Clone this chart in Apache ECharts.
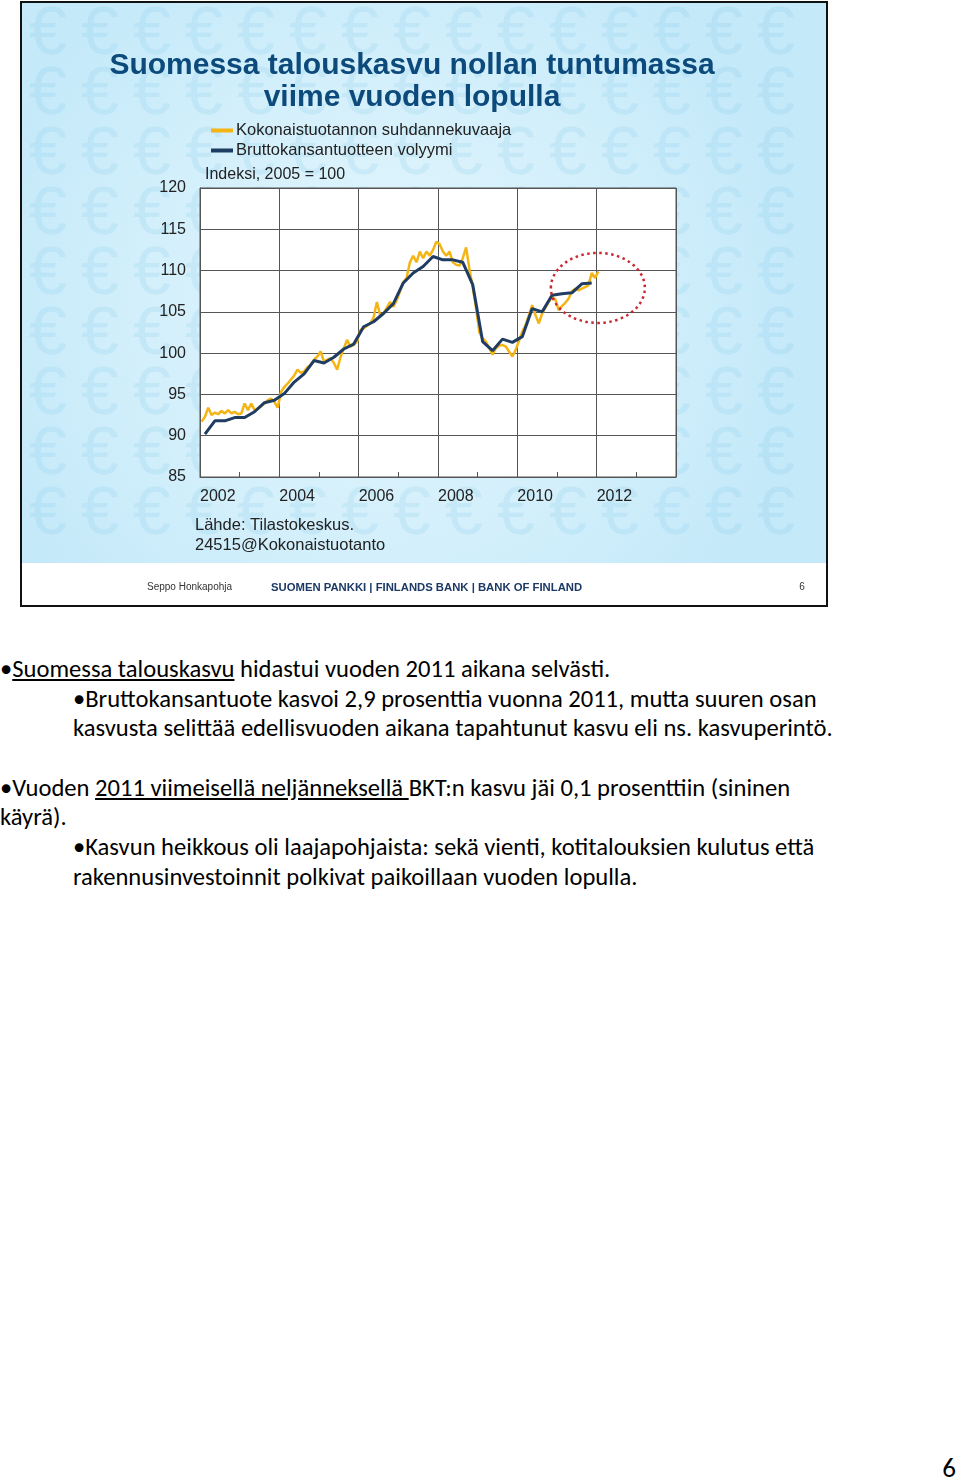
<!DOCTYPE html>
<html>
<head>
<meta charset="utf-8">
<script src="https://cdn.jsdelivr.net/npm/echarts@6/dist/echarts.min.js"></script>
<style>
  html, body { margin:0; padding:0; background:#fff; }
  body { width:960px; height:1478px; position:relative; overflow:hidden; }
  #chart { position:absolute; left:0; top:0; width:960px; height:620px; }
  .ln { position:absolute; white-space:nowrap; line-height:30px; height:30px; color:#000;
        font-family: Carlito, Lato, "Liberation Sans", sans-serif; font-size:20px; }
  .ln u { text-decoration: underline; text-underline-offset: 2px; }
  #pg { position:absolute; right:4px; top:1454px; font-family: Carlito, Lato, sans-serif; font-size:22px; line-height:28px; }
</style>
</head>
<body>
<div id="chart"></div>
<div class="ln" id="l1" style="left:0px; top:654px;">•<u>Suomessa talouskasvu</u> hidastui vuoden 2011 aikana selvästi.</div>
<div class="ln" id="l2" style="left:73px; top:684px;">•Bruttokansantuote kasvoi 2,9 prosenttia vuonna 2011, mutta suuren osan</div>
<div class="ln" id="l3" style="left:73px; top:713px;">kasvusta selittää edellisvuoden aikana tapahtunut kasvu eli ns. kasvuperintö.</div>
<div class="ln" id="l4" style="left:0px; top:773px;">•Vuoden <u>2011 viimeisellä neljänneksellä </u>BKT:n kasvu jäi 0,1 prosenttiin (sininen</div>
<div class="ln" id="l5" style="left:0px; top:802px;">käyrä).</div>
<div class="ln" id="l6" style="left:73px; top:832px;">•Kasvun heikkous oli laajapohjaista: sekä vienti, kotitalouksien kulutus että</div>
<div class="ln" id="l7" style="left:73px; top:862px;">rakennusinvestoinnit polkivat paikoillaan vuoden lopulla.</div>
<div id="pg">6</div>
<script>
// ---------------- DATA ----------------
const seriesNames = ['Kokonaistuotannon suhdannekuvaaja', 'Bruttokansantuotteen volyymi'];
const startYear = 2002;
// Bruttokansantuotteen volyymi, quarterly 2002Q1..2011Q4 (index 2005 = 100)
const gdpVolumeQuarterly = [
  90.2, 91.8, 91.8, 92.2,
  92.2, 92.9, 94.0, 94.3,
  95.1, 96.5, 97.5, 99.1,
  98.8, 99.5, 100.5, 101.1,
  103.2, 103.8, 104.8, 106.0,
  108.5, 109.7, 110.5, 111.7,
  111.3, 111.3, 111.0, 108.3,
  101.4, 100.3, 101.7, 101.3,
  102.0, 105.4, 105.0, 107.0,
  107.2, 107.3, 108.4, 108.5
];
// Kokonaistuotannon suhdannekuvaaja, monthly 2002-01..2012-01
const trendIndicatorMonthly = [
  91.7, 92.3, 93.4, 92.5, 92.8, 92.6, 93.0, 92.7, 93.1, 92.7, 92.9, 92.6,
  92.7, 93.9, 93.1, 93.9, 93.1, 93.3, 93.6, 93.9, 94.3, 94.5, 94.1, 93.4,
  95.3, 95.9, 96.3, 96.8, 97.3, 98.0, 97.6, 97.8, 98.3, 98.6, 99.2, 99.6,
  100.2, 99.0, 99.2, 99.4, 98.8, 98.0, 99.5, 100.6, 101.6, 100.8, 101.0, 101.4,
  102.8, 103.0, 103.3, 103.6, 104.3, 106.2, 104.6, 104.8, 105.5, 106.2, 105.6, 106.4,
  107.5, 108.6, 109.1, 111.0, 111.8, 111.0, 112.3, 111.5, 112.3, 111.8, 112.5, 113.5,
  113.2, 112.3, 111.8, 112.3, 111.0, 110.7, 110.6, 111.5, 112.8, 110.2, 108.0, 105.5,
  102.5, 101.8, 101.4, 100.6, 99.8, 100.6, 100.9, 101.0, 100.8, 100.2, 99.6, 100.4,
  101.5, 102.6, 103.4, 104.6, 105.8, 104.6, 103.6, 104.8, 105.5, 106.2, 106.8, 106.5,
  105.2, 105.7, 106.1, 106.6, 107.5, 107.8, 107.6, 107.8, 108.0, 108.2, 109.7, 109.1,
  109.9
];
const xTickYears = [2002, 2004, 2006, 2008, 2010, 2012];
const yTicks = [85, 90, 95, 100, 105, 110, 115, 120];
const highlightCenter = [2012.03, 107.9]; // dotted ellipse around latest data

// -------------- BUILD --------------
const gdpData = gdpVolumeQuarterly.map((v, i) => [startYear + i / 4 + 0.125, v]);
const trendData = trendIndicatorMonthly.map((v, i) => [startYear + i / 12 + 1 / 24, v]);

const FONT = '"Liberation Sans", Arial, sans-serif';
const YELLOW = '#f4b414';
const NAVY = '#1f3d63';

const bg = [];
// slide background
bg.push({ type:'rect', z:-20, shape:{ x:22, y:3, width:804, height:560 },
  style:{ fill: new echarts.graphic.RadialGradient(0.45, 0.55, 0.75, [
    { offset:0, color:'#e4f6fd' }, { offset:0.6, color:'#d2effb' }, { offset:1, color:'#c4e9f9' }]) } });
// euro pattern
for (let r = 0; r < 10; r++) {
  for (let c = 0; c < 16; c++) {
    const x = 48 + c * 52, y = 35 + r * 60;
    if (x > 815 || y > 560) continue;
    bg.push({ type:'text', z:-19, x: x, y: y, style:{ text:'€', fill:'rgba(120,195,232,0.17)',
      font:'68px "Liberation Sans", sans-serif', align:'center', verticalAlign:'middle' } });
  }
}
// footer strip
bg.push({ type:'rect', z:-18, shape:{ x:22, y:563, width:804, height:42 }, style:{ fill:'#ffffff' } });
// border
bg.push({ type:'rect', z:50, shape:{ x:21, y:2, width:806, height:604 }, style:{ fill:'none', stroke:'#111', lineWidth:2 } });

const texts = [
  { type:'text', z:10, x:412, y:66, style:{ text:'Suomessa talouskasvu nollan tuntumassa', fill:'#0d4a7c',
      font:'bold 30px ' + FONT, align:'center', verticalAlign:'middle' } },
  { type:'text', z:10, x:412, y:98, style:{ text:'viime vuoden lopulla', fill:'#0d4a7c',
      font:'bold 30px ' + FONT, align:'center', verticalAlign:'middle' } },
  { type:'text', z:10, x:205, y:175, style:{ text:'Indeksi, 2005 = 100', fill:'#222',
      font:'16px ' + FONT, align:'left', verticalAlign:'middle' } },
  { type:'text', z:10, x:195, y:525, style:{ text:'Lähde: Tilastokeskus.', fill:'#222',
      font:'16.5px ' + FONT, align:'left', verticalAlign:'middle' } },
  { type:'text', z:10, x:195, y:545, style:{ text:'24515@Kokonaistuotanto', fill:'#222',
      font:'16.5px ' + FONT, align:'left', verticalAlign:'middle' } },
  { type:'text', z:10, x:147, y:587, style:{ text:'Seppo Honkapohja', fill:'#333',
      font:'10px ' + FONT, align:'left', verticalAlign:'middle' } },
  { type:'text', z:10, x:271, y:588, style:{ text:'SUOMEN PANKKI | FINLANDS BANK | BANK OF FINLAND', fill:'#1c3a66',
      font:'bold 11.3px ' + FONT, align:'left', verticalAlign:'middle' } },
  { type:'text', z:10, x:802, y:587, style:{ text:'6', fill:'#333',
      font:'10px ' + FONT, align:'center', verticalAlign:'middle' } }
];

const chart = echarts.init(document.getElementById('chart'), null, { renderer:'canvas' });
chart.setOption({
  animation:false,
  graphic: bg.concat(texts),
  legend: {
    data: seriesNames, orient:'vertical', left:206, top:117, itemGap:3,
    icon:'rect', itemWidth:22, itemHeight:4,
    textStyle:{ fontFamily:FONT, fontSize:16.5, color:'#222', padding:[0,0,0,-2] }
  },
  grid: { left:200, top:188, width:476, height:289, show:true, backgroundColor:'#ffffff',
          borderColor:'#555', borderWidth:1, containLabel:false },
  xAxis: {
    type:'value', min:2002, max:2014, interval:2,
    axisLine:{ show:true, lineStyle:{ color:'#555', width:1 } },
    axisTick:{ show:true, inside:true, length:5, lineStyle:{ color:'#555' } },
    minorTick:{ show:true, splitNumber:2, length:5, lineStyle:{ color:'#555' } },
    splitLine:{ show:true, lineStyle:{ color:'#555', width:1 } },
    axisLabel:{ show:true, showMaxLabel:false, align:'left', margin:12, fontFamily:FONT, fontSize:16, color:'#222',
      formatter: v => xTickYears.includes(v) ? String(v) : '' }
  },
  yAxis: {
    type:'value', min:85, max:120, interval:5,
    axisLine:{ show:true, lineStyle:{ color:'#555', width:1 } },
    axisTick:{ show:false },
    splitLine:{ show:true, lineStyle:{ color:'#555', width:1 } },
    axisLabel:{ margin:14, fontFamily:FONT, fontSize:16, color:'#222',
      formatter: v => yTicks.includes(v) ? String(v) : '' }
  },
  series: [
    { name:seriesNames[0], type:'line', data:trendData, showSymbol:false, z:3,
      lineStyle:{ color:YELLOW, width:2.5 }, itemStyle:{ color:YELLOW } },
    { name:seriesNames[1], type:'line', data:gdpData, showSymbol:false, z:4,
      lineStyle:{ color:NAVY, width:3 }, itemStyle:{ color:NAVY } }
  ]
});

// dotted highlight ellipse around the latest observations
const cp = chart.convertToPixel({ gridIndex:0 }, highlightCenter);
chart.setOption({ graphic: bg.concat(texts).concat([{
  type:'ellipse', z:60, shape:{ cx:cp[0], cy:cp[1], rx:47, ry:35 },
  style:{ fill:'none', stroke:'#cc2630', lineWidth:2.5, lineDash:[2.5, 3.5] }
}]) });

// fit body text font size to reference line width
(function fitText(){
  const ref = document.getElementById('l2');
  const w = ref.getBoundingClientRect().width;
  const target = 744;
  const size = 20 * target / w;
  document.querySelectorAll('.ln').forEach(el => el.style.fontSize = size.toFixed(2) + 'px');
  document.getElementById('pg').style.fontSize = (size * 1.1).toFixed(2) + 'px';
})();
</script>
</body>
</html>
